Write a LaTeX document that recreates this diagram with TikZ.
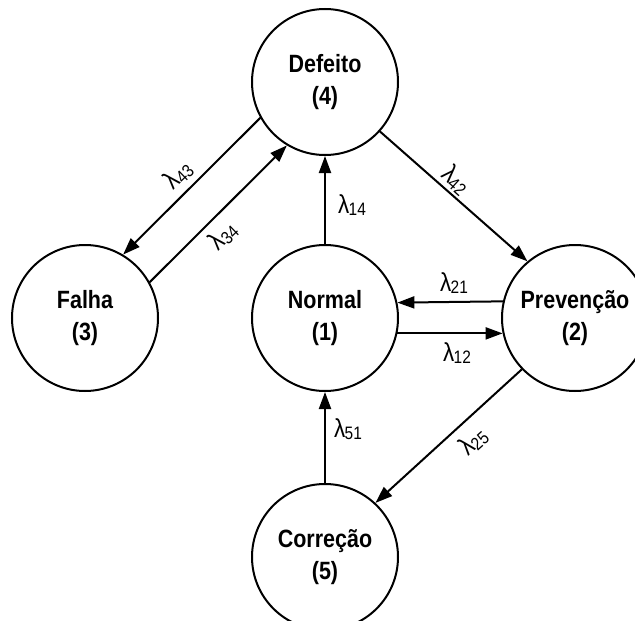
\documentclass[tikz,border=0pt]{standalone}
\usepackage{fontspec}
\setmainfont{Liberation Sans}[FakeStretch=0.86]
\usetikzlibrary{arrows.meta}
% transition rate: lambda with a lowered index
\newcommand{\rate}[1]{{\fontsize{26}{26}\selectfont λ}\kern-0.5pt\raisebox{-2.5pt}{\fontsize{18}{18}\selectfont #1}}
\begin{document}
\begin{tikzpicture}[x=1pt,y=-1pt,
  state/.style={circle, draw, line width=2pt, minimum size=146pt, inner sep=0pt,
    align=center, font=\bfseries\fontsize{25}{32}\selectfont},
  flow/.style={line width=2pt, -{Triangle[length=17pt,width=12pt]}},
  ratelabel/.style={inner sep=0pt}]
\useasboundingbox (0,0) rectangle (635,621);

% states
\node[state] (n4) at (325,82)  {Defeito\\(4)};
\node[state] (n3) at (85,318)  {Falha\\(3)};
\node[state] (n1) at (325,318) {Normal\\(1)};
\node[state] (n2) at (575,318) {Prevenção\\(2)};
\node[state] (n5) at (325,557) {Correção\\(5)};

% transitions
\draw[flow] (n4.209.3) -- (n3.59.5);
\draw[flow] (n3.29.3)  -- (n4.239.5);
\draw[flow] (n4.318)   -- (n2.130);
\draw[flow] (n1.north) -- (n4.south);
\draw[flow] (n2.167.3) -- (n1.12.7);
\draw[flow] (n1.-12.7) -- (n2.192.7);
\draw[flow] (n2.224.4) -- (n5.47);
\draw[flow] (n5.north) -- (n1.south);

% rates
\node[ratelabel, rotate=44]  (l43) at (178,175) {\rate{43}};
\node[ratelabel, rotate=44]  (l34) at (223,236) {\rate{34}};
\node[ratelabel, rotate=-42] (l42) at (456,180) {\rate{42}};
\node[ratelabel]             (l14) at (352,205) {\rate{14}};
\node[ratelabel]             (l21) at (454,283) {\rate{21}};
\node[ratelabel]             (l12) at (457,353) {\rate{12}};
\node[ratelabel]             (l51) at (348,429) {\rate{51}};
\node[ratelabel, rotate=42]  (l25) at (473,441) {\rate{25}};
\end{tikzpicture}
\end{document}
